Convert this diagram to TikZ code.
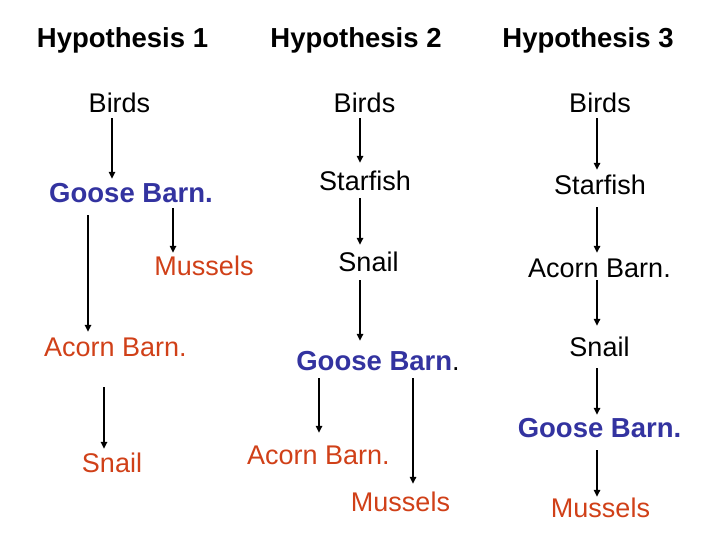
\documentclass[tikz,border=0pt]{standalone}
\usepackage{fontspec}
\setmainfont{Liberation Sans}
\usetikzlibrary{arrows.meta}
\definecolor{blueT}{RGB}{51,51,160}
\definecolor{redT}{RGB}{208,64,24}
\begin{document}
\begin{tikzpicture}[x=1pt,y=-1pt,
  lbl/.style={inner sep=0pt,text height=20pt,text depth=0pt,anchor=center,font=\fontsize{27}{30}\selectfont},
  hdr/.style={lbl,font=\fontsize{27.5}{30}\selectfont\bfseries},
  gb/.style={lbl,font=\fontsize{27.5}{30}\selectfont\bfseries,text=blueT},
  rd/.style={lbl,text=redT},
  arr/.style={line width=1.5pt,-{Triangle[length=7pt,width=6.5pt]}}]
\useasboundingbox (0,0) rectangle (720,540);
% headers
\node[hdr] (h1) at (122.5,38) {Hypothesis 1};
\node[hdr] (h2) at (356,38) {Hypothesis 2};
\node[hdr] (h3) at (588,38) {Hypothesis 3};
% Hypothesis 1
\node[lbl] (b1) at (119.5,103) {Birds};
\node[gb]  (g1) at (131,193) {Goose Barn.};
\node[rd]  (m1) at (204,265.5) {Mussels};
\node[rd]  (a1) at (115.5,346) {Acorn Barn.};
\node[rd]  (s1) at (112,462.5) {Snail};
\draw[arr] ([xshift=-7.5pt,yshift=-5pt]b1.south) -- ([xshift=-19pt,yshift=4pt]g1.north);
\draw[arr] ([xshift=42pt,yshift=-5pt]g1.south) -- ([xshift=-31pt,yshift=2.5pt]m1.north);
\draw[arr] ([xshift=-43pt,yshift=-12pt]g1.south) -- ([xshift=-27.5pt,yshift=4pt]a1.north);
\draw[arr] ([xshift=-11.5pt,yshift=-31pt]a1.south) -- ([xshift=-8pt,yshift=3.5pt]s1.north);
% Hypothesis 2
\node[lbl] (b2) at (364.5,103) {Birds};
\node[lbl] (st2) at (365,180.5) {Starfish};
\node[lbl] (sn2) at (368.5,261) {Snail};
\node[lbl] (g2) at (378,360) {{\bfseries\fontsize{27.5}{30}\selectfont\color{blueT}Goose Barn}.};
\node[rd]  (a2) at (318.5,454) {Acorn Barn.};
\node[rd]  (m2) at (400.5,501.5) {Mussels};
\draw[arr] ([xshift=-4.5pt,yshift=-5pt]b2.south) -- ([xshift=-5pt,yshift=7.5pt]st2.north);
\draw[arr] ([xshift=-5pt,yshift=-7.5pt]st2.south) -- ([xshift=-8.5pt,yshift=6pt]sn2.north);
\draw[arr] ([xshift=-8.5pt,yshift=-9pt]sn2.south) -- ([xshift=-18pt,yshift=9pt]g2.north);
\draw[arr] ([xshift=-59pt,yshift=-8pt]g2.south) -- ([xshift=0.5pt,yshift=11pt]a2.north);
\draw[arr] ([xshift=35pt,yshift=-8pt]g2.south) -- ([xshift=12.5pt,yshift=7.5pt]m2.north);
% Hypothesis 3
\node[lbl] (b3) at (600,103) {Birds};
\node[lbl] (st3) at (600,184.5) {Starfish};
\node[lbl] (a3) at (599.5,267) {Acorn Barn.};
\node[lbl] (sn3) at (599.5,346.5) {Snail};
\node[gb]  (g3) at (599.5,427) {Goose Barn.};
\node[rd]  (m3) at (600.5,507.5) {Mussels};
\draw[arr] ([xshift=-3pt,yshift=-5pt]b3.south) -- ([xshift=-3pt,yshift=4.5pt]st3.north);
\draw[arr] ([xshift=-3pt,yshift=-12.5pt]st3.south) -- ([xshift=-2.5pt,yshift=4pt]a3.north);
\draw[arr] ([xshift=-2.5pt,yshift=-3pt]a3.south) -- ([xshift=-2.5pt,yshift=10.5pt]sn3.north);
\draw[arr] ([xshift=-2.5pt,yshift=-11.5pt]sn3.south) -- ([xshift=-2.5pt,yshift=2pt]g3.north);
\draw[arr] ([xshift=-2.5pt,yshift=-13pt]g3.south) -- ([xshift=-3.5pt,yshift=0.5pt]m3.north);
\end{tikzpicture}
\end{document}
